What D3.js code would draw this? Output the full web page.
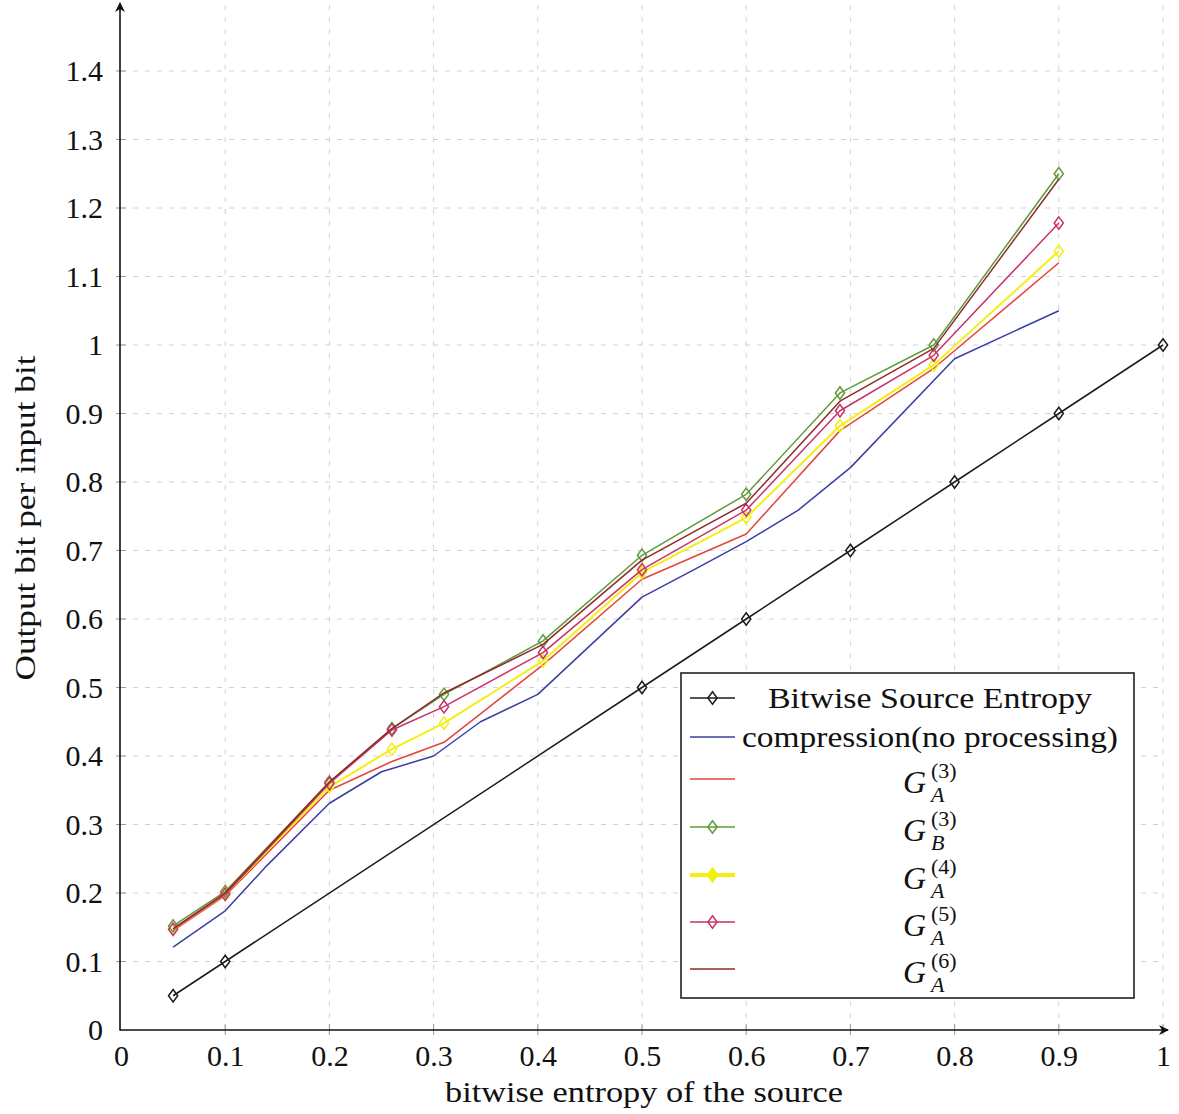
<!DOCTYPE html>
<html>
<head>
<meta charset="utf-8">
<script src="https://cdn.jsdelivr.net/npm/d3@7"></script>
<style>
  html, body { margin: 0; padding: 0; background: #fff; }
  svg { display: block; }
  text { font-family: "Liberation Serif", "DejaVu Serif", serif; fill: #111; }
</style>
</head>
<body>
<svg id="chart" width="1179" height="1114"></svg>
<script>
// ---- data -------------------------------------------------------------
const entropyX = [0.05, 0.1, 0.5, 0.6, 0.7, 0.8, 0.9, 1.0];
const entropyY = [0.05, 0.1, 0.5, 0.6, 0.7, 0.8, 0.9, 1.0];

const compX = [0.05, 0.1, 0.14, 0.2, 0.25, 0.3, 0.345, 0.4, 0.5, 0.55, 0.6, 0.65, 0.7, 0.8, 0.9];
const compY = [0.121, 0.174, 0.24, 0.331, 0.377, 0.400, 0.450, 0.490, 0.632, 0.672, 0.713, 0.759, 0.821, 0.980, 1.050];

const gX = [0.05, 0.1, 0.2, 0.26, 0.31, 0.405, 0.5, 0.6, 0.69, 0.78, 0.9];
const gA3 = [0.145, 0.196, 0.350, 0.392, 0.420, 0.533, 0.658, 0.724, 0.875, 0.966, 1.120];
const gB3 = [0.152, 0.202, 0.362, 0.440, 0.490, 0.568, 0.693, 0.782, 0.930, 1.000, 1.250];
const gA4 = [0.147, 0.198, 0.355, 0.410, 0.448, 0.539, 0.668, 0.748, 0.882, 0.971, 1.137];
const gA5 = [0.147, 0.198, 0.360, 0.438, 0.472, 0.551, 0.672, 0.759, 0.904, 0.985, 1.178];
const gA6 = [0.148, 0.200, 0.362, 0.440, 0.492, 0.563, 0.686, 0.769, 0.918, 0.995, 1.242];

const xTicks = [0, 0.1, 0.2, 0.3, 0.4, 0.5, 0.6, 0.7, 0.8, 0.9, 1];
const yTicks = [0, 0.1, 0.2, 0.3, 0.4, 0.5, 0.6, 0.7, 0.8, 0.9, 1, 1.1, 1.2, 1.3, 1.4];

const xTitle = "bitwise entropy of the source";
const yTitle = "Output bit per input bit";

// series: label (or G sub/superscripts), values, style
const series = [
  { label: "Bitwise Source Entropy", labelLen: 324, xs: entropyX, ys: entropyY, color: "#1b1b1b", marker: true },
  { label: "compression(no processing)", labelLen: 376, xs: compX, ys: compY, color: "#3a3ea4", marker: false },
  { g: ["3", "A"], xs: gX, ys: gA3, color: "#e2453c", marker: false },
  { g: ["3", "B"], xs: gX, ys: gB3, color: "#5f9b3a", marker: true },
  { g: ["4", "A"], xs: gX, ys: gA4, color: "#f3ef10", marker: true, width: 2, legendThick: true },
  { g: ["5", "A"], xs: gX, ys: gA5, color: "#c8336c", marker: true },
  { g: ["6", "A"], xs: gX, ys: gA6, color: "#8f2b2b", marker: false }
];

// ---- layout -----------------------------------------------------------
const svg = d3.select("#chart");
const x = d3.scaleLinear().domain([0, 1]).range([121, 1163]);
const y = d3.scaleLinear().domain([0, 1.5]).range([1030, 2.5]);

// grid
const grid = svg.append("g").attr("stroke", "#d2d2d2").attr("stroke-width", 1)
  .attr("stroke-dasharray", "5,7");
grid.selectAll("line.v").data(xTicks.slice(1)).join("line")
  .attr("x1", d => x(d)).attr("x2", d => x(d))
  .attr("y1", y(0)).attr("y2", y(1.5));
grid.selectAll("line.h").data(yTicks.slice(1)).join("line")
  .attr("x1", x(0)).attr("x2", x(1))
  .attr("y1", d => y(d)).attr("y2", d => y(d));

// axes with tick labels
const fmt = d => (d === 0 ? "0" : d === 1 ? "1" : d3.format(".1f")(d));
const xAxis = svg.append("g").attr("transform", `translate(0,${y(0)})`)
  .call(d3.axisBottom(x).tickValues(xTicks).tickFormat(fmt).tickSize(0).tickPadding(15));
const yAxis = svg.append("g").attr("transform", `translate(${x(0)},0)`)
  .call(d3.axisLeft(y).tickValues(yTicks).tickFormat(fmt).tickSize(0).tickPadding(18));
[xAxis, yAxis].forEach(a => {
  a.select(".domain").remove();
  a.selectAll("text").attr("font-size", 30).attr("font-family", "Liberation Serif").attr("fill", "#111");
});

// small tick marks on the axes
svg.append("g").attr("stroke", "#999").attr("stroke-width", 1)
  .selectAll("line").data(yTicks.slice(1)).join("line")
  .attr("x1", x(0) - 5).attr("x2", x(0) + 5).attr("y1", d => y(d)).attr("y2", d => y(d));
svg.append("g").attr("stroke", "#999").attr("stroke-width", 1)
  .selectAll("line").data(xTicks.slice(1)).join("line")
  .attr("x1", d => x(d)).attr("x2", d => x(d)).attr("y1", y(0) - 6).attr("y2", y(0) + 5);

// arrowed axis lines
const defs = svg.append("defs");
defs.append("marker").attr("id", "arrow").attr("viewBox", "0 0 10 10")
  .attr("refX", 9).attr("refY", 5).attr("markerWidth", 10).attr("markerHeight", 10)
  .attr("markerUnits", "userSpaceOnUse").attr("orient", "auto")
  .append("path").attr("d", "M0,0 L10,5 L0,10 L3,5 Z").attr("fill", "#111");
svg.append("line").attr("x1", x(0) - 1).attr("x2", x(1) + 5).attr("y1", y(0)).attr("y2", y(0))
  .attr("stroke", "#111").attr("stroke-width", 1.6).attr("marker-end", "url(#arrow)");
svg.append("line").attr("x1", x(0) - 1).attr("x2", x(0) - 1).attr("y1", y(0) + 0.8).attr("y2", 3)
  .attr("stroke", "#111").attr("stroke-width", 1.6).attr("marker-end", "url(#arrow)");

// axis titles
svg.append("text").attr("x", 644).attr("y", 1102).attr("text-anchor", "middle")
  .attr("font-size", 30).attr("textLength", 398).attr("lengthAdjust", "spacingAndGlyphs")
  .text(xTitle);
svg.append("text").attr("transform", "translate(35,518) rotate(-90)").attr("text-anchor", "middle")
  .attr("font-size", 30).attr("textLength", 325).attr("lengthAdjust", "spacingAndGlyphs")
  .text(yTitle);

// ---- series -----------------------------------------------------------
const diamond = (cx, cy, hw = 4.6, hh = 6.2) =>
  `M${cx},${cy - hh} L${cx + hw},${cy} L${cx},${cy + hh} L${cx - hw},${cy} Z`;

const plot = svg.append("g");
series.forEach(s => {
  const pts = s.xs.map((v, i) => [v, s.ys[i]]);
  const line = d3.line().x(d => x(d[0])).y(d => y(d[1]));
  plot.append("path").datum(pts).attr("d", line).attr("fill", "none")
    .attr("stroke", s.color).attr("stroke-width", s.width || 1.5).attr("stroke-linejoin", "round");
  if (s.marker) {
    plot.append("g").selectAll("path").data(pts).join("path")
      .attr("d", d => diamond(x(d[0]), y(d[1])))
      .attr("fill", "none").attr("stroke", s.color).attr("stroke-width", 1.5);
  }
});

// ---- legend -----------------------------------------------------------
const legend = svg.append("g");
legend.append("rect").attr("x", 681).attr("y", 673).attr("width", 453).attr("height", 325)
  .attr("fill", "#fff").attr("stroke", "#222").attr("stroke-width", 1.6);
const rowY = [698, 737, 779, 827, 875, 922, 969];
const textCx = 930;
series.forEach((s, i) => {
  const ry = rowY[i];
  legend.append("line").attr("x1", 690).attr("x2", 735).attr("y1", ry).attr("y2", ry)
    .attr("stroke", s.color).attr("stroke-width", s.legendThick ? 4 : 1.5);
  if (s.marker) {
    legend.append("path").attr("d", diamond(712.5, ry))
      .attr("fill", s.legendThick ? s.color : "none")
      .attr("stroke", s.color).attr("stroke-width", s.legendThick ? 2.5 : 1.5);
  }
  if (s.label) {
    legend.append("text").attr("x", textCx).attr("y", ry + 10).attr("text-anchor", "middle")
      .attr("font-size", 30).attr("textLength", s.labelLen).attr("lengthAdjust", "spacingAndGlyphs")
      .text(s.label);
  } else {
    legend.append("text").attr("x", 903).attr("y", ry + 14).attr("font-size", 32)
      .attr("font-style", "italic").text("G");
    legend.append("text").attr("x", 931).attr("y", ry - 1).attr("font-size", 22)
      .text(`(${s.g[0]})`);
    legend.append("text").attr("x", 931).attr("y", ry + 23).attr("font-size", 22)
      .attr("font-style", "italic").text(s.g[1]);
  }
});
</script>
</body>
</html>
